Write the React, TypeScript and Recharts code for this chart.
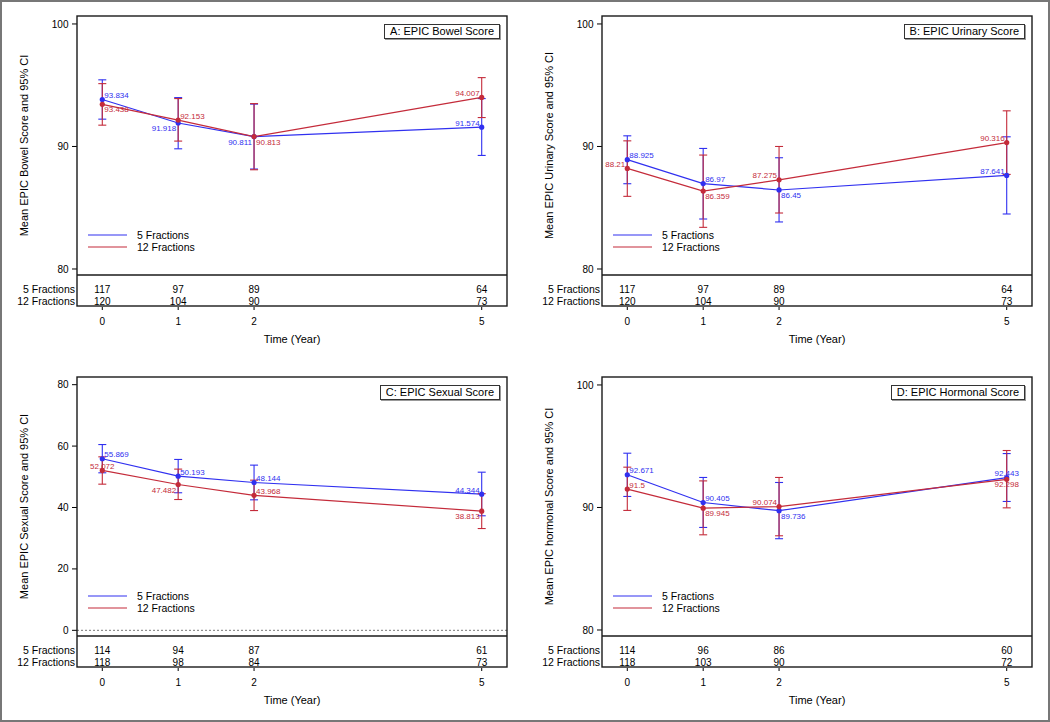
import React from 'react';
import {
  ComposedChart,
  Line,
  XAxis,
  YAxis,
  ErrorBar,
  LabelList,
  Legend,
  ReferenceLine,
} from 'recharts';

const FONT = '"Liberation Sans", Arial, Helvetica, sans-serif';
const BLUE = '#3030f0';
const RED = '#c42b3a';

const years = [0, 1, 2, 5];
const seriesNames = ['5 Fractions', '12 Fractions'];

// A: EPIC Bowel
const bowelMean5 = [93.834, 91.918, 90.811, 91.574];
const bowelLo5 = [92.23, 89.81, 88.16, 89.27];
const bowelHi5 = [95.44, 93.99, 93.46, 93.91];
const bowelMean12 = [93.438, 92.153, 90.813, 94.007];
const bowelLo12 = [91.74, 90.44, 88.1, 92.36];
const bowelHi12 = [95.13, 93.91, 93.5, 95.62];
const bowelN5 = [117, 97, 89, 64];
const bowelN12 = [120, 104, 90, 73];

// B: EPIC Urinary
const urinaryMean5 = [88.925, 86.97, 86.45, 87.641];
const urinaryLo5 = [86.96, 84.08, 83.84, 84.49];
const urinaryHi5 = [90.87, 89.84, 89.08, 90.79];
const urinaryMean12 = [88.21, 86.359, 87.275, 90.316];
const urinaryLo12 = [85.93, 83.4, 84.57, 87.72];
const urinaryHi12 = [90.46, 89.3, 90.0, 92.91];
const urinaryN5 = [117, 97, 89, 64];
const urinaryN12 = [120, 104, 90, 73];

// C: EPIC Sexual
const sexualMean5 = [55.869, 50.193, 48.144, 44.344];
const sexualLo5 = [51.3, 44.8, 42.5, 37.3];
const sexualHi5 = [60.5, 55.65, 53.8, 51.5];
const sexualMean12 = [52.072, 47.482, 43.968, 38.813];
const sexualLo12 = [47.6, 42.6, 39.0, 33.15];
const sexualHi12 = [56.5, 52.5, 48.9, 44.5];
const sexualN5 = [114, 94, 87, 61];
const sexualN12 = [118, 98, 84, 73];

// D: EPIC Hormonal
const hormonalMean5 = [92.671, 90.405, 89.736, 92.443];
const hormonalLo5 = [90.9, 88.37, 87.45, 90.49];
const hormonalHi5 = [94.43, 92.45, 92.04, 94.4];
const hormonalMean12 = [91.5, 89.945, 90.074, 92.298];
const hormonalLo12 = [89.76, 87.77, 87.69, 89.97];
const hormonalHi12 = [93.29, 92.17, 92.45, 94.65];
const hormonalN5 = [114, 96, 86, 60];
const hormonalN12 = [118, 103, 90, 72];

const scoreTicks = [80, 90, 100];
const sexualTicks = [0, 20, 40, 60, 80];

// label placement around each point: t/b = above/below, r/l/c = right/left/centre
type Pos = 'tr' | 'tl' | 'br' | 'bl' | 'tc' | 'bc';

// panel geometry
const W = 525;
const H = 361;
const TOP = 16;
const LEFT = 77;
const RIGHT = 18;
const XAXIS_H = 86;
const TABLE_H = 31;
const FRAME = '#1a1a1a';

const errPairs = (mean: number[], lo: number[], hi: number[]) =>
  mean.map((m, i) => [m - lo[i], hi[i] - m]);

const makePointLabel = (pos: Pos[], color: string) => (props: any) => {
  const { x, y, value, index } = props;
  const p = pos[index] || 'tr';
  let dx = 2;
  let anchor: 'start' | 'end' | 'middle' = 'start';
  if (p[1] === 'l') {
    dx = -2;
    anchor = 'end';
  } else if (p[1] === 'c') {
    dx = 0;
    anchor = 'middle';
  }
  const dy = p[0] === 't' ? -1.5 : 8;
  return (
    <text x={x + dx} y={y + dy} textAnchor={anchor} fill={color} fontSize={8} fontFamily={FONT}>
      {value}
    </text>
  );
};

const makeXTick = (n5: number[], n12: number[]) => (props: any) => {
  const { x, y, payload } = props;
  const i = years.indexOf(payload.value);
  return (
    <g fontFamily={FONT} fontSize={10} fill="#000">
      <text x={x} y={y + 17.5} textAnchor="middle">{n5[i]}</text>
      <text x={x} y={y + 29.5} textAnchor="middle">{n12[i]}</text>
      <line x1={x} x2={x} y1={y + TABLE_H + 1} y2={y + TABLE_H + 4} stroke="#000" />
      <text x={x} y={y + 49.5} textAnchor="middle">{payload.value}</text>
    </g>
  );
};

const xAxisLabel = (props: any) => {
  const vb = props.viewBox;
  return (
    <g fontFamily={FONT} fill="#000">
      <text x={vb.x - 2} y={vb.y + 17.5} textAnchor="end" fontSize={10.5}>{seriesNames[0]}</text>
      <text x={vb.x - 2} y={vb.y + 29.5} textAnchor="end" fontSize={10.5}>{seriesNames[1]}</text>
      <text x={vb.x + vb.width / 2} y={vb.y + 68} textAnchor="middle" fontSize={11}>Time (Year)</text>
    </g>
  );
};

const makeYTitle = (text: string) => (props: any) => {
  const vb = props.viewBox;
  const cy = vb.y + vb.height / 2;
  return (
    <text
      x={24}
      y={cy}
      transform={`rotate(-90, 24, ${cy})`}
      textAnchor="middle"
      dominantBaseline="central"
      fontSize={11}
      fontFamily={FONT}
      fill="#000"
    >
      {text}
    </text>
  );
};

const LegendBox = ({ payload }: any) => {
  const items = [...(payload || [])].sort(
    (a: any, b: any) => seriesNames.indexOf(a.value) - seriesNames.indexOf(b.value)
  );
  return (
    <div style={{ fontFamily: FONT, fontSize: 10.5, color: '#000' }}>
      {items.map((p: any) => (
        <div key={p.value} style={{ display: 'flex', alignItems: 'center', height: 11.7, whiteSpace: 'nowrap' }}>
          <svg width={40} height={4} style={{ display: 'block' }}>
            <line x1={0} x2={39} y1={2} y2={2} stroke={p.color} strokeWidth={1.2} />
          </svg>
          <span style={{ marginLeft: 9 }}>{p.value}</span>
        </div>
      ))}
    </div>
  );
};

// box around the plot area and the at-risk table under it
function Frame() {
  const plotBottom = H - XAXIS_H;
  const bottom = plotBottom + TABLE_H;
  const right = W - RIGHT;
  return (
    <svg width={W} height={H} style={{ position: 'absolute', left: 0, top: 0, pointerEvents: 'none' }}>
      <rect x={LEFT} y={TOP} width={right - LEFT} height={bottom - TOP} fill="none" stroke={FRAME} strokeWidth={1.4} />
      <line x1={LEFT} x2={right} y1={plotBottom} y2={plotBottom} stroke={FRAME} strokeWidth={1.4} />
    </svg>
  );
}

interface PanelProps {
  title: string;
  yTitle: string;
  mean5: number[];
  lo5: number[];
  hi5: number[];
  mean12: number[];
  lo12: number[];
  hi12: number[];
  n5: number[];
  n12: number[];
  pos5: Pos[];
  pos12: Pos[];
  domain: [number, number];
  ticks: number[];
  zeroLine?: boolean;
}

function Panel(p: PanelProps) {
  const e5 = errPairs(p.mean5, p.lo5, p.hi5);
  const e12 = errPairs(p.mean12, p.lo12, p.hi12);
  const data = years.map((t, i) => ({ t, m5: p.mean5[i], m12: p.mean12[i], e5: e5[i], e12: e12[i] }));

  return (
    <div style={{ position: 'relative', width: W, height: H }}>
      <ComposedChart width={W} height={H} data={data} margin={{ top: TOP, right: RIGHT, bottom: 0, left: 0 }}>
        <XAxis
          dataKey="t"
          type="number"
          domain={[-1 / 3, 16 / 3]}
          ticks={years}
          allowDataOverflow
          height={XAXIS_H}
          axisLine={false}
          tickLine={false}
          tickSize={0}
          tickMargin={0}
          tick={makeXTick(p.n5, p.n12)}
          label={xAxisLabel}
        />
        <YAxis
          type="number"
          domain={p.domain}
          ticks={p.ticks}
          allowDataOverflow
          width={LEFT}
          axisLine={false}
          tickSize={5}
          tickMargin={3.5}
          tickLine={{ stroke: '#000' }}
          tick={{ fontSize: 10, fill: '#000', fontFamily: FONT }}
          label={makeYTitle(p.yTitle)}
        />
        {p.zeroLine && <ReferenceLine y={0} stroke="#777" strokeDasharray="2 2" />}
        <Legend
          layout="vertical"
          align="center"
          verticalAlign="middle"
          content={<LegendBox />}
          wrapperStyle={{ left: 88, top: 229, width: 'auto', height: 'auto' }}
        />
        <Line
          name={seriesNames[0]}
          dataKey="m5"
          type="linear"
          stroke={BLUE}
          strokeWidth={1.2}
          dot={{ r: 2.6, fill: BLUE, stroke: BLUE, strokeWidth: 0 }}
          activeDot={false}
          isAnimationActive={false}
        >
          <ErrorBar dataKey="e5" direction="y" width={4} stroke={BLUE} strokeWidth={1.1} />
          <LabelList dataKey="m5" content={makePointLabel(p.pos5, BLUE)} />
        </Line>
        <Line
          name={seriesNames[1]}
          dataKey="m12"
          type="linear"
          stroke={RED}
          strokeWidth={1.2}
          dot={{ r: 2.6, fill: RED, stroke: RED, strokeWidth: 0 }}
          activeDot={false}
          isAnimationActive={false}
        >
          <ErrorBar dataKey="e12" direction="y" width={4} stroke={RED} strokeWidth={1.1} />
          <LabelList dataKey="m12" content={makePointLabel(p.pos12, RED)} />
        </Line>
      </ComposedChart>
      <Frame />
      <div
        style={{
          position: 'absolute',
          right: 25,
          top: 24,
          border: '1px solid #333',
          boxShadow: '1px 1px 0 #999',
          background: '#fff',
          fontFamily: FONT,
          fontSize: 11,
          lineHeight: '13px',
          padding: '0 5px',
          color: '#000',
          whiteSpace: 'nowrap',
        }}
      >
        {p.title}
      </div>
    </div>
  );
}

export default function App() {
  return (
    <div style={{ position: 'absolute', left: 0, top: 0, width: 1050, height: 722, background: '#fff' }}>
      <div style={{ display: 'grid', gridTemplateColumns: '525px 525px', gridTemplateRows: '361px 361px' }}>
        <Panel
          title="A: EPIC Bowel Score"
          yTitle="Mean EPIC Bowel Score and 95% CI"
          mean5={bowelMean5}
          lo5={bowelLo5}
          hi5={bowelHi5}
          mean12={bowelMean12}
          lo12={bowelLo12}
          hi12={bowelHi12}
          n5={bowelN5}
          n12={bowelN12}
          pos5={['tr', 'bl', 'bl', 'tl']}
          pos12={['br', 'tr', 'br', 'tl']}
          domain={[79.51, 100.65]}
          ticks={scoreTicks}
        />
        <Panel
          title="B: EPIC Urinary Score"
          yTitle="Mean EPIC Urinary Score and 95% CI"
          mean5={urinaryMean5}
          lo5={urinaryLo5}
          hi5={urinaryHi5}
          mean12={urinaryMean12}
          lo12={urinaryLo12}
          hi12={urinaryHi12}
          n5={urinaryN5}
          n12={urinaryN12}
          pos5={['tr', 'tr', 'br', 'tl']}
          pos12={['tl', 'br', 'tl', 'tl']}
          domain={[79.51, 100.65]}
          ticks={scoreTicks}
        />
        <Panel
          title="C: EPIC Sexual Score"
          yTitle="Mean EPIC Sexual Score and 95% CI"
          mean5={sexualMean5}
          lo5={sexualLo5}
          hi5={sexualHi5}
          mean12={sexualMean12}
          lo12={sexualLo12}
          hi12={sexualHi12}
          n5={sexualN5}
          n12={sexualN12}
          pos5={['tr', 'tr', 'tr', 'tl']}
          pos12={['tc', 'bl', 'tr', 'bl']}
          domain={[-1.85, 82.5]}
          ticks={sexualTicks}
          zeroLine
        />
        <Panel
          title="D: EPIC Hormonal Score"
          yTitle="Mean EPIC hormonal Score and 95% CI"
          mean5={hormonalMean5}
          lo5={hormonalLo5}
          hi5={hormonalHi5}
          mean12={hormonalMean12}
          lo12={hormonalLo12}
          hi12={hormonalHi12}
          n5={hormonalN5}
          n12={hormonalN12}
          pos5={['tr', 'tr', 'br', 'tc']}
          pos12={['tr', 'br', 'tl', 'bc']}
          domain={[79.51, 100.65]}
          ticks={scoreTicks}
        />
      </div>
      <div
        style={{
          position: 'absolute',
          left: 0,
          top: 0,
          width: 1050,
          height: 722,
          boxSizing: 'border-box',
          border: '2px solid #777',
          pointerEvents: 'none',
        }}
      />
    </div>
  );
}
